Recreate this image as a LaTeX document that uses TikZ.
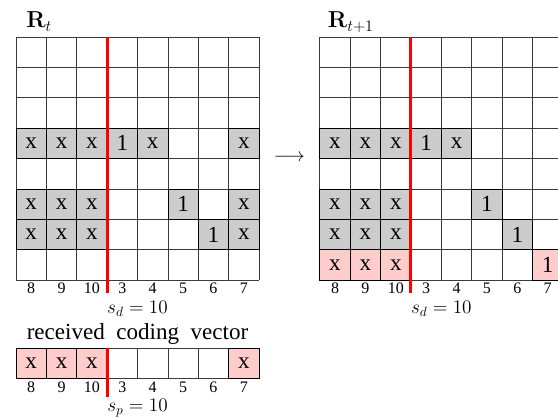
\documentclass[tikz,border=0pt]{standalone}
\usepackage{amsmath,amssymb}
\usepackage[no-math]{fontspec}
\setmainfont{Liberation Serif}
\usepackage{tikz}
\usetikzlibrary{positioning}
\definecolor{cellgray}{HTML}{CCCCCC}
\definecolor{cellpink}{HTML}{FFCCCC}
\definecolor{gridink}{HTML}{3A3A3A}
\tikzset{
  gline/.style={draw=gridink,line width=0.6pt},
  gcell/.style={draw=black,fill=cellgray,line width=0.6pt},
  pcell/.style={draw=black,fill=cellpink,line width=0.6pt},
  entry/.style={font=\LARGE,inner sep=0pt},
  idx/.style={font=\large,inner sep=0pt,anchor=base},
  cutline/.style={draw=red,line width=2.2pt},
  title/.style={font=\LARGE,anchor=base west,inner sep=0pt},
}

\begin{document}
\begin{tikzpicture}[x=0.8cm,y=-0.8cm]
  \useasboundingbox (-0.527,-1.218) rectangle (17.84,12.48);
  \clip (-0.527,-1.218) rectangle (17.84,12.48);
  % left matrix R_t
  \foreach \k in {0,...,8} {
    \draw[gline] (\k,0) -- (\k,8);
    \draw[gline] (0,\k) -- (8,\k);
  }
  \foreach \c/\r/\t in {0/3/x,1/3/x,2/3/x,3/3/1,4/3/x,7/3/x,
                        0/5/x,1/5/x,2/5/x,5/5/1,7/5/x,
                        0/6/x,1/6/x,2/6/x,6/6/1,7/6/x} {
    \draw[gcell] (\c,\r) rectangle ++(1,1);
    \node[entry] (l-\c-\r) at (\c+0.5,\r+0.5) {\t};
  }
  \draw[cutline] (3,0) -- (3,8.42);
  \node[title] (rt) at (0.33,-0.3) {$\mathbf{R}_t$};
  \foreach \n [count=\i from 0] in {8,9,10,3,4,5,6,7}
    \node[idx] (li-\i) at (\i+0.5,8.43) {\n};
  \node[font=\Large,inner sep=0pt] (sdl) at (4,8.95) {$s_d=10$};
  % arrow
  \node[font=\Large,inner sep=0pt] (step) at (9,3.98) {$\longrightarrow$};
  % right matrix R_{t+1}
  \foreach \k in {0,...,8} {
    \draw[gline] (10+\k,0) -- (10+\k,8);
    \draw[gline] (10,\k) -- (18,\k);
  }
  \foreach \c/\r/\t in {0/3/x,1/3/x,2/3/x,3/3/1,4/3/x,
                        0/5/x,1/5/x,2/5/x,5/5/1,
                        0/6/x,1/6/x,2/6/x,6/6/1} {
    \draw[gcell] (10+\c,\r) rectangle ++(1,1);
    \node[entry] (r-\c-\r) at (10.5+\c,\r+0.5) {\t};
  }
  \foreach \c/\t in {0/x,1/x,2/x,7/1} {
    \draw[pcell] (10+\c,7) rectangle ++(1,1);
    \node[entry] (r-\c-7) at (10.5+\c,7.5) {\t};
  }
  \draw[cutline] (13,0) -- (13,8.42);
  \node[title] (rt1) at (10.26,-0.3) {$\mathbf{R}_{t+1}$};
  \foreach \n [count=\i from 0] in {8,9,10,3,4,5,6,7}
    \node[idx] (ri-\i) at (10.5+\i,8.43) {\n};
  \node[font=\Large,inner sep=0pt] (sdr) at (14,8.95) {$s_d=10$};
  % received coding vector
  \node[font=\LARGE,anchor=base,inner sep=0pt] (rcv) at (4,9.97) {received\ \ coding\ \ vector};
  \draw[gline] (0,10.25) rectangle (8,11.25);
  \foreach \c in {1,...,7}
    \draw[gline] (\c,10.25) -- (\c,11.25);
  \foreach \c/\t in {0/x,1/x,2/x,7/x} {
    \draw[pcell] (\c,10.25) rectangle ++(1,1);
    \node[entry] (v-\c) at (\c+0.5,10.75) {\t};
  }
  \draw[cutline] (3,10.25) -- (3,11.85);
  \foreach \n [count=\i from 0] in {8,9,10,3,4,5,6,7}
    \node[idx] (vi-\i) at (\i+0.5,11.71) {\n};
  \node[font=\Large,inner sep=0pt,anchor=base] (sp) at (4,12.33) {$s_p=10$};
\end{tikzpicture}
\end{document}
